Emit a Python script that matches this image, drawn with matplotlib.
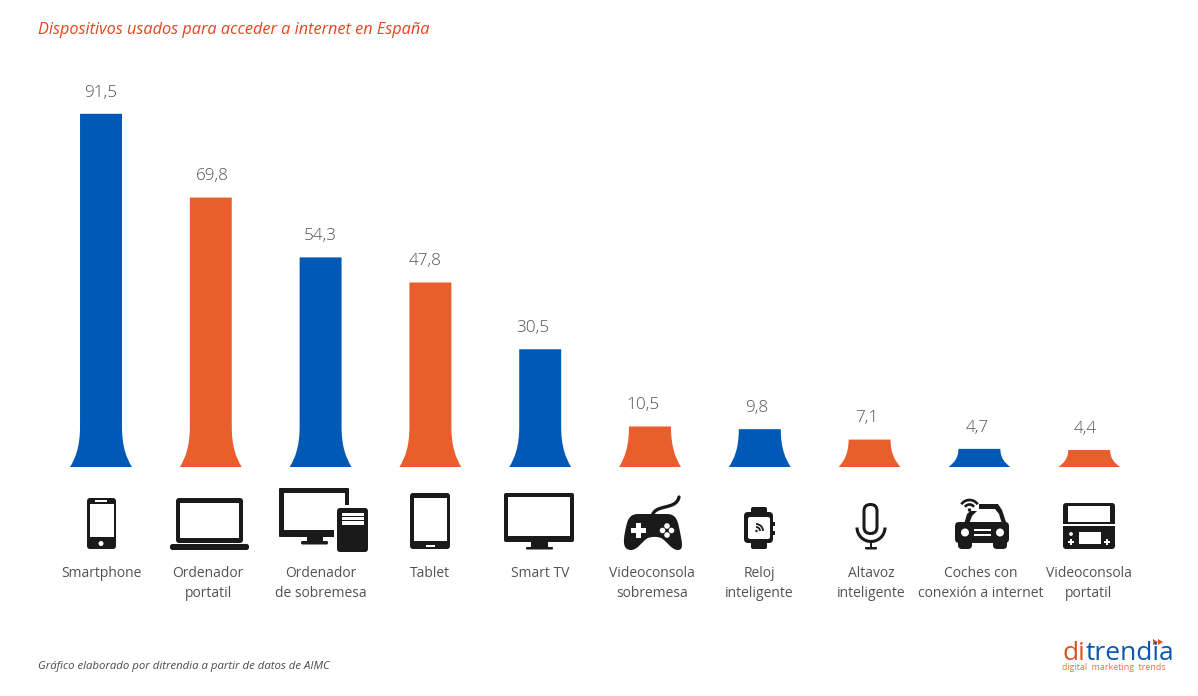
import matplotlib
matplotlib.use("Agg")
import matplotlib.pyplot as plt
from matplotlib.patches import PathPatch, Rectangle, Circle, FancyBboxPatch, Arc, Polygon
from matplotlib.path import Path

title = "Dispositivos usados para acceder a internet en España"
source = "Gráfico elaborado por ditrendia a partir de datos de AIMC"
categories = ["Smartphone", "Ordenador\nportatil", "Ordenador\nde sobremesa", "Tablet", "Smart TV",
              "Videoconsola\nsobremesa", "Reloj\ninteligente", "Altavoz\ninteligente",
              "Coches con\nconexión a internet", "Videoconsola\nportatil"]
values = [91.5, 69.8, 54.3, 47.8, 30.5, 10.5, 9.8, 7.1, 4.7, 4.4]
value_labels = ["91,5", "69,8", "54,3", "47,8", "30,5", "10,5", "9,8", "7,1", "4,7", "4,4"]

BLUE, ORANGE = "#0059b5", "#e85e2d"
colors = [BLUE, ORANGE] * 5
INK, GREY = "#1a1a1a", "#525254"
FONT = "Open Sans"
W, H = 1198, 696
STEP, X0, BASE, PXU = 109.8, 101, 467, 3.86

fig = plt.figure(figsize=(W / 100, H / 100), dpi=100)
ax = fig.add_axes([0, 0, 1, 1])
ax.set_xlim(-X0 / STEP, (W - X0) / STEP)
ax.set_ylim(-(H - BASE) / PXU, BASE / PXU)
ax.axis("off")

label_dx = [0, 2, 0, -5, -7, -7, -3, -3, -2, -4]
for i, (v, c, s) in enumerate(zip(values, colors, value_labels)):
    hw, bw = 0.191, 0.282
    fh = min(v, 10.5)
    d = bw - hw
    verts = [(i - hw, v), (i - hw, fh),
             (i - hw, fh * 0.5), (i - hw - d * 0.45, fh * 0.22), (i - bw, 0),
             (i + bw, 0),
             (i + hw + d * 0.45, fh * 0.22), (i + hw, fh * 0.5), (i + hw, fh),
             (i + hw, v), (i - hw, v)]
    codes = [Path.MOVETO, Path.LINETO, Path.CURVE4, Path.CURVE4, Path.CURVE4, Path.LINETO,
             Path.CURVE4, Path.CURVE4, Path.CURVE4, Path.LINETO, Path.CLOSEPOLY]
    ax.add_patch(PathPatch(Path(verts, codes), fc=c, ec="none"))
    ax.annotate(s, (i, v), xytext=(label_dx[i] * 0.72, 9.5), textcoords="offset points",
                ha="center", va="bottom", fontsize=12.3, color=GREY, family=FONT, fontweight="light")

# pixel-space overlay for text and pictograms
p = fig.add_axes([0, 0, 1, 1], facecolor="none")
p.set_xlim(0, W)
p.set_ylim(H, 0)
p.axis("off")

p.text(38, 29.5, title, color="#e2451c", fontsize=11.7, style="italic", family=FONT, va="center", ha="left")
p.text(38, 666.5, source, color="#4a4a4a", fontsize=8.2, style="italic", family=FONT, va="center", ha="left")

label_x = [101, 208, 321, 430, 540, 652, 759, 871, 981, 1089]
for x, t in zip(label_x, categories):
    for j, line in enumerate(t.split("\n")):
        p.text(x, 573.5 + 20 * j, line, ha="center", va="center", fontsize=10.0, color=GREY, family=FONT)


def rr(x0, y0, x1, y1, r=2, c=INK):
    p.add_patch(FancyBboxPatch((x0 + r, y0 + r), x1 - x0 - 2 * r, y1 - y0 - 2 * r,
                               boxstyle=f"round,pad={r},rounding_size={r}", fc=c, ec="none"))


def wr(x0, y0, x1, y1):
    p.add_patch(Rectangle((x0, y0), x1 - x0, y1 - y0, fc="white", ec="none"))


def ink(x0, y0, x1, y1):
    p.add_patch(Rectangle((x0, y0), x1 - x0, y1 - y0, fc=INK, ec="none"))


def circ(x, y, r, c="white"):
    p.add_patch(Circle((x, y), r, fc=c, ec="none"))


def plus(x, y, s, t, c="white"):
    p.add_patch(Rectangle((x - s, y - t), 2 * s, 2 * t, fc=c, ec="none"))
    p.add_patch(Rectangle((x - t, y - s), 2 * t, 2 * s, fc=c, ec="none"))


# smartphone
rr(87, 498, 116, 549, 3); wr(89.5, 504, 113.5, 537); wr(95, 500, 107, 502); circ(101, 543.5, 2.5)
# laptop
rr(176, 498, 243, 543, 3); wr(180, 503, 239, 538); rr(170, 544, 249, 550, 2.5)
# desktop
rr(279, 488, 349, 537, 1); wr(284, 493, 345, 530); ink(307, 537, 323, 542); rr(301, 541, 328, 544.5, 1.5)
wr(334, 505, 352, 537)
rr(337, 508, 368, 552, 3)
for a, b in [(513, 516), (517, 520), (521, 525)]:
    wr(342, a, 364, b)
# tablet
rr(410, 493, 450, 549, 3); wr(413.5, 498, 447, 541); wr(426, 545, 435, 546.5)
# TV
rr(504, 493, 574, 542, 2); wr(508, 497, 570, 536); ink(531, 542, 548, 547); rr(526, 547, 553, 549.5, 1)
# gamepad
C4 = Path.CURVE4
pad_v = [(638, 514),
         (628, 514), (627, 522), (625, 532),
         (623, 542), (623, 550), (631, 550),
         (638, 550), (642, 541), (648, 538),
         (652, 536.5), (657, 536.5), (661, 538),
         (667, 541), (671, 550), (678, 550),
         (684, 550), (682, 542), (680, 532),
         (678, 522), (677, 514), (667, 514),
         (658, 514), (648, 514), (638, 514),
         (638, 514)]
pad_c = [Path.MOVETO] + [C4] * 24 + [Path.CLOSEPOLY]
p.add_patch(PathPatch(Path(pad_v, pad_c), fc=INK, ec="none"))
cable = Path([(652, 517), (654, 503), (676, 511), (679, 497)], [Path.MOVETO, C4, C4, C4])
p.add_patch(PathPatch(cable, fc="none", ec=INK, lw=2.4, capstyle="round"))
plus(638.5, 530.5, 7.5, 2.9)
for dx, dy in [(0, -4.5), (0, 4.5), (-4.5, 0), (4.5, 0)]:
    circ(667 + dx, 530.5 + dy, 2.8)
# watch
rr(751, 507, 767, 549, 2); rr(744, 512, 773, 543, 4); rr(748, 517, 770, 539, 2, "white")
ink(773, 522, 775, 526); ink(773, 531, 775, 535)
circ(756.5, 531, 1.2, INK)
for r in (4, 7):
    p.add_patch(Arc((756, 531), 2 * r, 2 * r, theta1=-90, theta2=0, ec=INK, lw=1.3))
# microphone
rr(862.5, 503, 878.5, 535, 7.9, INK); rr(865.5, 506, 875.5, 532, 4.9, "white")
p.add_patch(Arc((871, 527.5), 28, 28, theta1=0, theta2=180, ec=INK, lw=2.2))
ink(869.8, 541, 872.2, 547); rr(865, 547, 877, 549.5, 1)
# car
roof = [(963, 528), (967, 514), (978, 504), (998, 504), (1002, 510), (1008, 528)]
p.add_patch(Polygon(roof, closed=True, fc=INK, ec="none"))
p.add_patch(Polygon([(969, 524), (972, 516), (979, 509), (995, 509), (999, 514), (1002, 524)],
                    closed=True, fc="white", ec="none"))
wr(958, 498, 979, 511)
rr(955, 522, 1009, 543, 4); rr(958, 535, 972, 549, 4); rr(993, 535, 1007, 549, 4)
circ(965, 532.5, 4); circ(1000, 532.5, 4); wr(974, 529, 991, 531); wr(974, 534, 991, 536)
circ(969.5, 510, 1.7, INK)
for r in (5.5, 10):
    p.add_patch(Arc((969.5, 510), 2 * r, 2 * r, theta1=215, theta2=325, ec=INK, lw=1.9))
# handheld
rr(1063, 503, 1115, 549, 3); wr(1068, 506, 1110, 522); wr(1063, 524, 1115, 526); wr(1079, 532, 1101, 544)
circ(1071, 534, 1.9); plus(1071, 542, 3, 1); plus(1107, 542, 3, 1)

# logo
lf = dict(fontsize=19, family=FONT, va="baseline")
p.text(1062, 660, "di", color="#e2501f", **lf)
p.text(1086, 660, "trendia", color="#0a55b5", **lf)
p.add_patch(Polygon([(1153, 639), (1158, 642), (1153, 645)], fc="#e2501f", ec="none"))
p.add_patch(Polygon([(1158, 639), (1163, 642), (1158, 645)], fc="#e2501f", ec="none"))
p.text(1062, 667, "digital  marketing  trends", color="#e8704a", fontsize=6.4, family=FONT,
       va="center", ha="left")

fig.savefig("out.png", dpi=100, facecolor="white")
